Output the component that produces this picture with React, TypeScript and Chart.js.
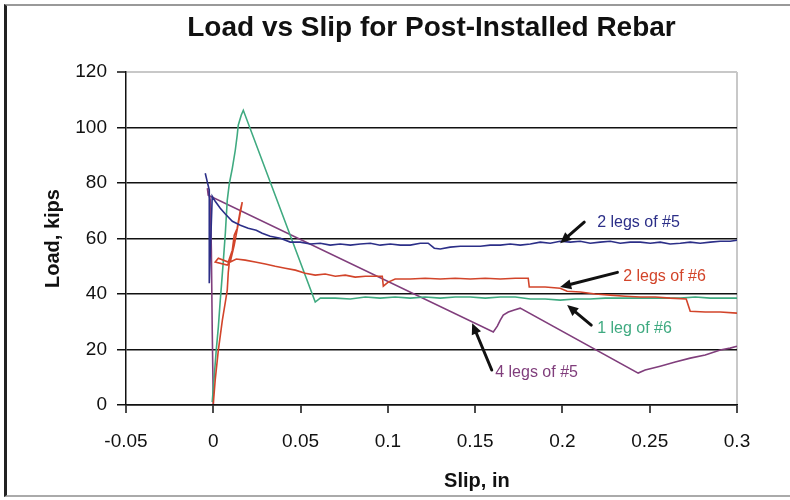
import { useEffect, useRef } from "react";
import { Chart, registerables } from "chart.js";

Chart.register(...registerables);

const FONT = "'Liberation Sans', Arial, sans-serif";

const chartTitle = "Load vs Slip for Post-Installed Rebar";
const xAxisTitle = "Slip, in";
const yAxisTitle = "Load, kips";

const xTicks = [-0.05, 0, 0.05, 0.1, 0.15, 0.2, 0.25, 0.3];
const yTicks = [0, 20, 40, 60, 80, 100, 120];

// 2 legs of #5
const blueX = [-0.0046, -0.0034, -0.0023, -0.0023, -0.0006, 0.0011, 0.004, 0.0069, 0.0109, 0.0155, 0.02, 0.0246, 0.028, 0.0326, 0.0384, 0.0441, 0.0498, 0.0556, 0.0613, 0.067, 0.0727, 0.0785, 0.0842, 0.09, 0.0956, 0.1014, 0.1071, 0.1128, 0.1186, 0.1231, 0.1266, 0.13, 0.1357, 0.1415, 0.1472, 0.153, 0.1586, 0.1644, 0.1701, 0.1758, 0.1816, 0.1873, 0.193, 0.1987, 0.2045, 0.2102, 0.2159, 0.2216, 0.2274, 0.2331, 0.2388, 0.2446, 0.2503, 0.256, 0.2617, 0.2675, 0.2732, 0.2789, 0.2847, 0.2904, 0.2961, 0.3];
const blueY = [83.5, 80.3, 77.4, 43.9, 75.2, 73.4, 70.9, 68.8, 66.2, 64.8, 63.7, 63, 61.9, 60.8, 60.1, 58.7, 58.7, 58, 58.3, 57.6, 58, 57.6, 58, 58.3, 57.6, 58, 57.6, 57.6, 58.3, 58.3, 56.5, 56.2, 56.9, 57.2, 57.2, 57.2, 57.6, 57.6, 58, 57.6, 58, 58.7, 58.3, 59, 58.7, 59, 58.3, 58.7, 59, 58.3, 58.7, 58.7, 58.3, 58.7, 58, 58.3, 58.7, 58.3, 58.7, 59, 59, 59.4];

// 2 legs of #6
const redX = [0, 0.0011, 0.0029, 0.0052, 0.0069, 0.008, 0.0086, 0.0092, 0.008, 0.0011, 0.0029, 0.0086, 0.0109, 0.012, 0.0137, 0.0155, 0.0166, 0.0149, 0.012, 0.0097, 0.0132, 0.0183, 0.024, 0.0298, 0.0355, 0.0412, 0.047, 0.0527, 0.0584, 0.0641, 0.0699, 0.0756, 0.0813, 0.0871, 0.0928, 0.0968, 0.0974, 0.1002, 0.1042, 0.1128, 0.1214, 0.13, 0.1386, 0.1472, 0.1558, 0.1644, 0.173, 0.1804, 0.181, 0.1901, 0.1987, 0.2027, 0.2102, 0.2188, 0.2274, 0.236, 0.2446, 0.2532, 0.2617, 0.2709, 0.2732, 0.2818, 0.2904, 0.3];
const redY = [0.4, 9, 19.8, 30.6, 37.1, 41.4, 47.9, 51.5, 50.4, 51.5, 52.9, 51.5, 55.8, 61.2, 63.7, 70.2, 73.1, 67.3, 57.6, 51.5, 52.6, 52.2, 51.5, 50.8, 50, 49.3, 48.6, 47.5, 46.8, 47.2, 46.4, 46.8, 46.1, 46.4, 46.4, 46.4, 42.8, 44.3, 45.4, 45.4, 45.7, 45.4, 45.7, 45.4, 45.7, 45.4, 45.7, 45.7, 42.5, 42.5, 42.1, 41, 40.7, 40, 39.6, 39.2, 38.9, 38.9, 38.5, 38.2, 33.8, 33.5, 33.5, 33.1];

// 1 leg of #6
const greenX = [-0.0006, 0.0006, 0.0017, 0.0029, 0.004, 0.0046, 0.0057, 0.0069, 0.008, 0.0092, 0.0109, 0.0126, 0.0137, 0.0143, 0.016, 0.0172, 0.0584, 0.0613, 0.0699, 0.0785, 0.0871, 0.0956, 0.1042, 0.1128, 0.1214, 0.13, 0.1386, 0.1472, 0.1558, 0.1644, 0.173, 0.1816, 0.1901, 0.1987, 0.2073, 0.2159, 0.2245, 0.2331, 0.2417, 0.2503, 0.2589, 0.2675, 0.2761, 0.2847, 0.2932, 0.3];
const greenY = [1.1, 10.8, 19.8, 28.1, 37.8, 42.5, 51.5, 61.9, 73.8, 79.9, 85.3, 91.8, 97.2, 100.8, 104.4, 106.2, 37.1, 38.5, 38.5, 38.2, 38.9, 38.5, 38.9, 38.5, 38.9, 38.5, 38.9, 38.9, 38.5, 38.9, 38.9, 38.2, 38.2, 37.8, 38.2, 38.2, 38.5, 38.5, 38.5, 38.5, 38.5, 38.5, 38.9, 38.5, 38.5, 38.5];

// 4 legs of #5
const purpleX = [0, -0.0006, -0.0011, -0.0017, -0.0034, -0.0029, 0.1604, 0.1627, 0.1644, 0.1661, 0.169, 0.1724, 0.1758, 0.2434, 0.2474, 0.256, 0.2646, 0.2732, 0.2818, 0.2904, 0.2961, 0.3];
const purpleY = [0.4, 27, 55.8, 73.8, 78.1, 75.6, 26.3, 28.4, 30.6, 32.4, 33.5, 34.2, 34.9, 11.5, 12.6, 14, 15.5, 16.9, 18, 19.8, 20.5, 21.2];

const seriesNames = ["2 legs of #5", "2 legs of #6", "1 leg of #6", "4 legs of #5"];
const seriesColors = ["#2C2F88", "#D2442A", "#3FAA80", "#803E7C"];
const seriesX = [blueX, redX, greenX, purpleX];
const seriesY = [blueY, redY, greenY, purpleY];

// annotation labels: text anchor (data coords) and arrow from/to (data coords)
const labelTextX = [0.2199, 0.2348, 0.2199, 0.1615];
const labelTextY = [65.9, 46.1, 27.7, 11.5];
const arrowFromX = [0.2125, 0.2315, 0.2165, 0.1595];
const arrowFromY = [65.9, 47.8, 28.8, 12.6];
const arrowToX = [0.1987, 0.1987, 0.2027, 0.1483];
const arrowToY = [58.3, 42.5, 36.0, 29.5];

const near = (a: number, b: number) => Math.abs(a - b) < 1e-6;

const annotationPlugin = {
  id: "annotations",
  afterDatasetsDraw(chart: any) {
    const { ctx, scales, chartArea } = chart;
    const xs = scales.x;
    const ys = scales.y;
    ctx.save();
    for (let i = 0; i < seriesNames.length; i++) {
      const fx = xs.getPixelForValue(arrowFromX[i]);
      const fy = ys.getPixelForValue(arrowFromY[i]);
      const tx = xs.getPixelForValue(arrowToX[i]);
      const ty = ys.getPixelForValue(arrowToY[i]);
      const ang = Math.atan2(ty - fy, tx - fx);
      const headLen = 11;
      const headW = 5;
      const bx = tx - headLen * Math.cos(ang);
      const by = ty - headLen * Math.sin(ang);
      ctx.strokeStyle = "#111";
      ctx.fillStyle = "#111";
      ctx.lineWidth = 3;
      ctx.lineCap = "round";
      ctx.beginPath();
      ctx.moveTo(fx, fy);
      ctx.lineTo(bx, by);
      ctx.stroke();
      ctx.beginPath();
      ctx.moveTo(tx, ty);
      ctx.lineTo(bx + headW * Math.sin(ang), by - headW * Math.cos(ang));
      ctx.lineTo(bx - headW * Math.sin(ang), by + headW * Math.cos(ang));
      ctx.closePath();
      ctx.fill();

      ctx.font = `16px ${FONT}`;
      ctx.fillStyle = seriesColors[i];
      ctx.textAlign = "left";
      ctx.textBaseline = "middle";
      ctx.fillText(seriesNames[i], xs.getPixelForValue(labelTextX[i]), ys.getPixelForValue(labelTextY[i]));
    }
    // chart title, centred over the plot area
    ctx.font = `bold 28px ${FONT}`;
    ctx.fillStyle = "#111";
    ctx.textAlign = "center";
    ctx.textBaseline = "middle";
    ctx.fillText(chartTitle, (chartArea.left + chartArea.right) / 2, 28);
    // x axis title
    ctx.font = `bold 20px ${FONT}`;
    ctx.fillText(xAxisTitle, xs.getPixelForValue(0.151), 481);
    ctx.restore();
  },
};

export default function App() {
  const ref = useRef<HTMLCanvasElement | null>(null);

  useEffect(() => {
    if (!ref.current) return;
    const datasets = seriesNames.map((name, i) => ({
      label: name,
      data: seriesX[i].map((x, j) => ({ x, y: seriesY[i][j] })),
      borderColor: seriesColors[i],
      backgroundColor: seriesColors[i],
      borderWidth: 1.6,
      pointRadius: 0,
      showLine: true,
      fill: false,
      tension: 0,
    }));
    const chart = new Chart(ref.current, {
      type: "scatter",
      data: { datasets },
      plugins: [annotationPlugin],
      options: {
        animation: false,
        responsive: false,
        maintainAspectRatio: false,
        layout: { padding: { left: 0, right: 53, top: 72, bottom: 0 } },
        plugins: {
          legend: { display: false },
          tooltip: { enabled: false },
          title: { display: false },
        },
        scales: {
          x: {
            type: "linear",
            min: -0.05,
            max: 0.3,
            afterBuildTicks: (s: any) => {
              s.ticks = xTicks.map((v) => ({ value: v }));
            },
            afterFit: (s: any) => {
              s.height = 95;
            },
            ticks: {
              color: "#111",
              font: { family: FONT, size: 19 },
              padding: 17,
              maxRotation: 0,
              autoSkip: false,
              callback: (v: any) => String(Math.round(Number(v) * 100) / 100),
            },
            grid: {
              drawOnChartArea: true,
              color: (c: any) => (c.tick && near(c.tick.value, 0.3) ? "#c8c8c8" : "rgba(0,0,0,0)"),
              lineWidth: 2,
              tickColor: "#111",
              tickWidth: 1.5,
              tickLength: 8,
            },
            border: { display: true, color: "#111", width: 1.5 },
          },
          y: {
            type: "linear",
            min: 0,
            max: 120,
            afterBuildTicks: (s: any) => {
              s.ticks = yTicks.map((v) => ({ value: v }));
            },
            afterFit: (s: any) => {
              s.width = 126;
            },
            title: {
              display: true,
              text: yAxisTitle,
              color: "#111",
              font: { family: FONT, size: 20, weight: "bold" },
              padding: { top: 41, bottom: 0 },
            },
            ticks: {
              color: "#111",
              font: { family: FONT, size: 19 },
              padding: 10,
            },
            grid: {
              color: (c: any) => (c.tick && c.tick.value === 120 ? "#c8c8c8" : "#111"),
              lineWidth: (c: any) => (c.tick && c.tick.value === 120 ? 2 : 1.5),
              tickColor: "#111",
              tickWidth: 1.5,
              tickLength: 9,
            },
            border: { display: true, color: "#111", width: 1.5 },
          },
        },
      },
    });
    return () => chart.destroy();
  }, []);

  return (
    <div style={{ position: "absolute", left: 0, top: 0, width: 790, height: 500, background: "#fff", overflow: "hidden" }}>
      <canvas ref={ref} width={790} height={500} style={{ display: "block" }} />
      <div
        style={{
          position: "absolute",
          left: 4,
          top: 4,
          width: 800,
          height: 493,
          boxSizing: "border-box",
          borderLeft: "3px solid #222",
          borderTop: "2px solid #999",
          borderBottom: "2px solid #aaa",
          pointerEvents: "none",
        }}
      />
    </div>
  );
}
